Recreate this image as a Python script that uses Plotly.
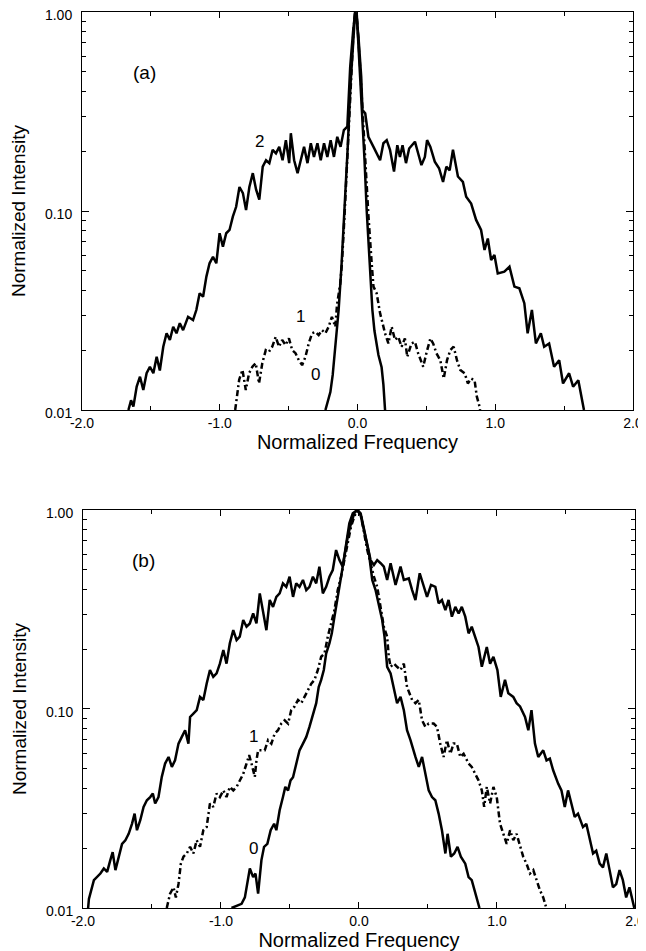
import numpy as np
import plotly.graph_objects as go

# ---------------- Panel (a) ----------------
a2_x = [-1.663, -1.644, -1.627, -1.603, -1.579, -1.555, -1.531, -1.507, -1.482, -1.458, -1.435, -1.410, -1.386, -1.362,
        -1.338, -1.314, -1.290, -1.266, -1.230, -1.194, -1.170, -1.146, -1.121, -1.097, -1.074, -1.049, -1.025, -1.001,
        -0.977, -0.953, -0.929, -0.905, -0.881, -0.857, -0.832, -0.809, -0.785, -0.760, -0.736, -0.713, -0.688, -0.664,
        -0.640, -0.616, -0.592, -0.568, -0.544, -0.520, -0.496, -0.484, -0.460, -0.435, -0.412, -0.388, -0.363, -0.339,
        -0.316, -0.291, -0.267, -0.243, -0.219, -0.195, -0.171, -0.147, -0.123, -0.099, -0.074, -0.053, -0.032, -0.017,
        -0.004, 0.007, 0.027, 0.036, 0.056, 0.067, 0.079, 0.116, 0.139, 0.164, 0.188, 0.212, 0.236, 0.265, 0.289, 0.308,
        0.327, 0.352, 0.375, 0.417, 0.440, 0.464, 0.489, 0.505, 0.529, 0.561, 0.592, 0.621, 0.645, 0.669, 0.693, 0.729,
        0.765, 0.789, 0.825, 0.861, 0.897, 0.922, 0.946, 0.970, 0.994, 1.018, 1.066, 1.103, 1.139, 1.175, 1.211, 1.235,
        1.266, 1.295, 1.331, 1.355, 1.391, 1.427, 1.464, 1.492, 1.536, 1.565, 1.603, 1.644]
a2_y = [0.0100, 0.0112, 0.0104, 0.0131, 0.0147, 0.0126, 0.0153, 0.0165, 0.0153, 0.0185, 0.0158, 0.0208, 0.0243, 0.0225,
        0.0262, 0.0243, 0.0273, 0.0252, 0.0294, 0.0283, 0.0318, 0.0386, 0.0371, 0.0468, 0.0546, 0.0589, 0.0546, 0.0773,
        0.0662, 0.0773, 0.0803, 0.0936, 0.105, 0.132, 0.123, 0.101, 0.132, 0.155, 0.128, 0.114, 0.167, 0.180,
        0.174, 0.203, 0.195, 0.210, 0.180, 0.227, 0.174, 0.246, 0.180, 0.155, 0.180, 0.210, 0.174, 0.219,
        0.187, 0.219, 0.180, 0.219, 0.187, 0.227, 0.187, 0.236, 0.210, 0.255, 0.265, 0.531, 0.800, 1.0,
        0.900, 0.751, 0.473, 0.322, 0.310, 0.276, 0.236, 0.210, 0.195, 0.180, 0.219, 0.227, 0.203, 0.158, 0.214, 0.187,
        0.214, 0.174, 0.206, 0.223, 0.195, 0.170, 0.187, 0.227, 0.210, 0.177, 0.164, 0.140, 0.167, 0.160, 0.203, 0.149,
        0.140, 0.118, 0.109, 0.0902, 0.0803, 0.0637, 0.0727, 0.0567, 0.0601, 0.0486, 0.0496, 0.0525, 0.0417, 0.0409, 0.0344, 0.0243,
        0.0318, 0.0216, 0.0243, 0.0208, 0.0216, 0.0165, 0.0178, 0.0136, 0.0153, 0.0131, 0.0141, 0.0100]

a1_x = [-0.888, -0.859, -0.835, -0.811, -0.787, -0.763, -0.739, -0.715, -0.691, -0.666, -0.643, -0.619, -0.594, -0.570,
        -0.547, -0.522, -0.498, -0.474, -0.450, -0.426, -0.402, -0.378, -0.354, -0.330, -0.305, -0.282, -0.258, -0.233,
        -0.209, -0.186, -0.161, -0.149, -0.125, -0.113, -0.094, -0.072, -0.051, -0.029, -0.017, -0.004, 0.018, 0.036,
        0.058, 0.079, 0.103, 0.116, 0.139, 0.164, 0.200, 0.224, 0.248, 0.272, 0.296, 0.320, 0.344, 0.361, 0.392, 0.417,
        0.440, 0.477, 0.500, 0.529, 0.549, 0.573, 0.601, 0.626, 0.650, 0.674, 0.698, 0.722, 0.746, 0.778, 0.801, 0.825,
        0.850, 0.866, 0.886, 0.890]
a1_y = [0.0100, 0.0142, 0.0159, 0.0126, 0.0153, 0.0165, 0.0172, 0.0136, 0.0172, 0.0200, 0.0196, 0.0208, 0.0233, 0.0208,
        0.0225, 0.0212, 0.0229, 0.0200, 0.0193, 0.0178, 0.0168, 0.0185, 0.0216, 0.0243, 0.0247, 0.0238, 0.0252, 0.0243,
        0.0262, 0.0294, 0.0262, 0.0337, 0.0433, 0.0546, 0.0955, 0.198, 0.415, 0.810, 1.0, 0.933, 0.542, 0.322,
        0.170, 0.0955, 0.0546, 0.0417, 0.0386, 0.0306, 0.0243, 0.0216, 0.0262, 0.0225, 0.0233, 0.0208, 0.0229, 0.0185, 0.0216, 0.0220,
        0.0193, 0.0165, 0.0193, 0.0229, 0.0216, 0.0193, 0.0178, 0.0144, 0.0178, 0.0200, 0.0208, 0.0178, 0.0159, 0.0153, 0.0136, 0.0144,
        0.0141, 0.0117, 0.0104, 0.0100]

a0_x = [-0.233, -0.197, -0.180, -0.161, -0.137, -0.116, -0.094, -0.072, -0.051, -0.032, -0.017, -0.005, 0.014, 0.031,
        0.051, 0.067, 0.079, 0.092, 0.108, 0.123, 0.152, 0.175, 0.188, 0.200]
a0_y = [0.0100, 0.0123, 0.0150, 0.0212, 0.0318, 0.0535, 0.100, 0.203, 0.430, 0.723, 1.0, 0.966, 0.574, 0.361,
        0.180, 0.100, 0.0715, 0.0435, 0.0318, 0.0250, 0.0189, 0.0164, 0.0134, 0.0100]

# ---------------- Panel (b) ----------------
b2_x = [-1.963, -1.957, -1.921, -1.898, -1.874, -1.849, -1.825, -1.802, -1.785, -1.765, -1.741, -1.717, -1.693, -1.669,
        -1.645, -1.626, -1.609, -1.585, -1.561, -1.537, -1.513, -1.494, -1.477, -1.453, -1.429, -1.405, -1.380, -1.356,
        -1.333, -1.308, -1.284, -1.260, -1.236, -1.224, -1.200, -1.176, -1.152, -1.128, -1.104, -1.080, -1.056, -1.032,
        -1.008, -0.983, -0.960, -0.936, -0.911, -0.887, -0.864, -0.839, -0.815, -0.791, -0.767, -0.743, -0.719, -0.695,
        -0.671, -0.647, -0.623, -0.599, -0.575, -0.551, -0.527, -0.503, -0.478, -0.455, -0.431, -0.406, -0.382, -0.359,
        -0.334, -0.310, -0.287, -0.262, -0.238, -0.214, -0.190, -0.166, -0.142, -0.118, -0.094, -0.070, -0.045, -0.012,
        0.012, 0.036, 0.060, 0.084, 0.108, 0.132, 0.157, 0.180, 0.204, 0.229, 0.265, 0.301, 0.325, 0.361, 0.385, 0.409,
        0.440, 0.469, 0.493, 0.522, 0.553, 0.577, 0.601, 0.626, 0.649, 0.673, 0.698, 0.722, 0.745, 0.770, 0.794, 0.817,
        0.842, 0.866, 0.890, 0.926, 0.950, 0.974, 1.003, 1.027, 1.058, 1.082, 1.118, 1.142, 1.167, 1.203, 1.227, 1.250,
        1.275, 1.299, 1.335, 1.359, 1.383, 1.407, 1.443, 1.467, 1.491, 1.515, 1.539, 1.563, 1.587, 1.623, 1.647, 1.672,
        1.696, 1.719, 1.744, 1.768, 1.792, 1.816, 1.840, 1.864, 1.888, 1.912, 1.936, 1.960, 1.979, 1.995]
b2_y = [0.0100, 0.0111, 0.0138, 0.0143, 0.0149, 0.0158, 0.0152, 0.0174, 0.0191, 0.0155, 0.0180, 0.0210, 0.0219, 0.0236,
        0.0265, 0.0298, 0.0246, 0.0276, 0.0322, 0.0348, 0.0361, 0.0376, 0.0335, 0.0361, 0.0456, 0.0532, 0.0574, 0.0512,
        0.0552, 0.0670, 0.0724, 0.0782, 0.0670, 0.0912, 0.0948, 0.0986, 0.115, 0.111, 0.134, 0.157, 0.145, 0.151,
        0.169, 0.198, 0.169, 0.214, 0.249, 0.222, 0.231, 0.280, 0.259, 0.269, 0.302, 0.269, 0.381, 0.302,
        0.249, 0.353, 0.326, 0.366, 0.381, 0.428, 0.411, 0.462, 0.366, 0.428, 0.411, 0.445, 0.396, 0.411,
        0.462, 0.428, 0.519, 0.381, 0.411, 0.462, 0.499, 0.629, 0.560, 0.519, 0.680, 0.857, 0.963, 1.0,
        0.963, 0.793, 0.680, 0.560, 0.529, 0.560, 0.540, 0.519, 0.445, 0.540, 0.420, 0.519, 0.445, 0.453, 0.396, 0.353,
        0.481, 0.411, 0.366, 0.420, 0.411, 0.340, 0.353, 0.314, 0.353, 0.291, 0.326, 0.302, 0.326, 0.291, 0.240, 0.259,
        0.231, 0.205, 0.163, 0.205, 0.169, 0.183, 0.157, 0.115, 0.140, 0.120, 0.115, 0.107, 0.103, 0.0912, 0.0782, 0.0986,
        0.0670, 0.0574, 0.0620, 0.0552, 0.0563, 0.0492, 0.0422, 0.0390, 0.0322, 0.0390, 0.0335, 0.0287, 0.0298, 0.0255, 0.0265, 0.0219,
        0.0188, 0.0194, 0.0167, 0.0160, 0.0188, 0.0155, 0.0127, 0.0132, 0.0155, 0.0138, 0.0113, 0.0127, 0.0111, 0.0100]

b1_x = [-1.393, -1.369, -1.344, -1.327, -1.308, -1.291, -1.272, -1.248, -1.224, -1.200, -1.176, -1.152, -1.128, -1.104,
        -1.080, -1.056, -1.032, -1.008, -0.983, -0.960, -0.936, -0.911, -0.887, -0.864, -0.839, -0.815, -0.796, -0.779,
        -0.755, -0.743, -0.731, -0.707, -0.683, -0.659, -0.635, -0.611, -0.587, -0.563, -0.539, -0.514, -0.491, -0.467,
        -0.442, -0.418, -0.395, -0.370, -0.346, -0.323, -0.298, -0.274, -0.250, -0.226, -0.202, -0.178, -0.154, -0.130,
        -0.106, -0.082, -0.058, -0.034, -0.014, 0.012, 0.036, 0.060, 0.084, 0.108, 0.132, 0.157, 0.180, 0.204, 0.216,
        0.229, 0.253, 0.276, 0.301, 0.325, 0.348, 0.385, 0.409, 0.433, 0.457, 0.481, 0.505, 0.541, 0.565, 0.589, 0.613,
        0.637, 0.662, 0.685, 0.709, 0.734, 0.758, 0.794, 0.817, 0.842, 0.866, 0.890, 0.907, 0.926, 0.950, 0.974, 0.998,
        1.022, 1.046, 1.070, 1.095, 1.118, 1.142, 1.167, 1.190, 1.214, 1.239, 1.263, 1.286, 1.311, 1.335, 1.354]
b1_y = [0.0100, 0.0118, 0.0127, 0.0113, 0.0132, 0.0167, 0.0181, 0.0188, 0.0203, 0.0188, 0.0219, 0.0203, 0.0246, 0.0255,
        0.0335, 0.0322, 0.0376, 0.0361, 0.0390, 0.0361, 0.0406, 0.0390, 0.0406, 0.0438, 0.0472, 0.0532, 0.0586, 0.0532,
        0.0456, 0.0552, 0.0620, 0.0620, 0.0620, 0.0697, 0.0670, 0.0753, 0.0782, 0.0845, 0.0877, 0.0845, 0.0986, 0.103,
        0.111, 0.107, 0.115, 0.124, 0.134, 0.140, 0.157, 0.183, 0.190, 0.231, 0.269, 0.314, 0.396, 0.462,
        0.560, 0.680, 0.824, 0.925, 1.0, 0.950, 0.763, 0.629, 0.540, 0.462, 0.411, 0.314, 0.259, 0.231, 0.183,
        0.163, 0.169, 0.163, 0.157, 0.169, 0.129, 0.111, 0.107, 0.111, 0.0877, 0.0813, 0.0845, 0.0845, 0.0813, 0.0670, 0.0574,
        0.0697, 0.0596, 0.0670, 0.0670, 0.0574, 0.0596, 0.0532, 0.0512, 0.0472, 0.0438, 0.0390, 0.0322, 0.0406, 0.0335, 0.0406, 0.0361,
        0.0265, 0.0236, 0.0210, 0.0246, 0.0219, 0.0236, 0.0203, 0.0181, 0.0167, 0.0149, 0.0155, 0.0138, 0.0123, 0.0113, 0.0102]

b0_x = [-0.924, -0.851, -0.827, -0.803, -0.791, -0.767, -0.750, -0.731, -0.707, -0.688, -0.664, -0.640, -0.615, -0.599,
        -0.575, -0.551, -0.534, -0.514, -0.496, -0.478, -0.455, -0.431, -0.406, -0.382, -0.359, -0.334, -0.310, -0.292,
        -0.274, -0.255, -0.238, -0.214, -0.197, -0.178, -0.154, -0.130, -0.106, -0.082, -0.058, -0.034, -0.012, 0.012,
        0.036, 0.072, 0.084, 0.096, 0.120, 0.144, 0.168, 0.185, 0.204, 0.229, 0.253, 0.276, 0.301, 0.325, 0.348, 0.373,
        0.409, 0.433, 0.457, 0.481, 0.505, 0.529, 0.553, 0.577, 0.601, 0.626, 0.642, 0.666, 0.690, 0.714, 0.738, 0.770,
        0.794, 0.817, 0.842, 0.866, 0.873]
b0_y = [0.0100, 0.0105, 0.0113, 0.0138, 0.0158, 0.0143, 0.0149, 0.0118, 0.0174, 0.0203, 0.0210, 0.0246, 0.0265, 0.0246,
        0.0310, 0.0361, 0.0406, 0.0390, 0.0438, 0.0454, 0.0532, 0.0620, 0.0670, 0.0724, 0.0813, 0.0948, 0.107, 0.129,
        0.140, 0.157, 0.190, 0.214, 0.240, 0.291, 0.366, 0.462, 0.605, 0.734, 0.857, 0.963, 1.0, 0.940,
        0.793, 0.605, 0.519, 0.445, 0.396, 0.326, 0.280, 0.231, 0.163, 0.151, 0.124, 0.107, 0.115, 0.0986, 0.0782, 0.0697,
        0.0574, 0.0512, 0.0574, 0.0474, 0.0390, 0.0361, 0.0348, 0.0298, 0.0246, 0.0188, 0.0236, 0.0181, 0.0188, 0.0203, 0.0181, 0.0167,
        0.0143, 0.0138, 0.0118, 0.0103, 0.0100]

# ---------------- ticks / labels ----------------
x_tick_vals = [-2, -1, 0, 1, 2]
x_tick_text = ["-2.0", "-1.0", "0.0", "1.0", "2.0"]
x_minor_vals = [-1.5, -0.5, 0.5, 1.5]
y_tick_vals = [0.01, 0.1, 1.0]
y_tick_text = ["0.01", "0.10", "1.00"]
y_minor_vals = [0.02, 0.03, 0.04, 0.05, 0.06, 0.07, 0.08, 0.09, 0.2, 0.3, 0.4, 0.5, 0.6, 0.7, 0.8, 0.9]

x_title = "Normalized Frequency"
y_title = "Normalized Intensity"
panel_labels = ["(a)", "(b)"]
curve_labels = ["2", "1", "0"]

for nm, xs, ys in [("a2", a2_x, a2_y), ("a1", a1_x, a1_y), ("a0", a0_x, a0_y),
                   ("b2", b2_x, b2_y), ("b1", b1_x, b1_y), ("b0", b0_x, b0_y)]:
    if len(xs) != len(ys):
        raise ValueError(f"{nm}: {len(xs)} x vs {len(ys)} y")

FONT = "Liberation Sans, Arial, Helvetica, sans-serif"
DASHDOT = "6px,3px,2px,3px"

fig = go.Figure()


def add(xs, ys, xa, ya, dash):
    fig.add_trace(go.Scatter(x=xs, y=ys, xaxis=xa, yaxis=ya, mode="lines",
                             line=dict(color="black", width=2.5, dash=dash),
                             showlegend=False, hoverinfo="skip"))


add(a2_x, a2_y, "x", "y", "solid")
add(a1_x, a1_y, "x", "y", DASHDOT)
add(a0_x, a0_y, "x", "y", "solid")
add(b2_x, b2_y, "x2", "y2", "solid")
add(b1_x, b1_y, "x2", "y2", DASHDOT)
add(b0_x, b0_y, "x2", "y2", "solid")


def xaxis(domain, anchor):
    return dict(domain=domain, anchor=anchor, range=[-2, 2], tickmode="array",
                tickvals=x_tick_vals, ticktext=x_tick_text, ticks="inside", ticklen=6,
                tickwidth=1, tickcolor="black", showline=True, linecolor="black", linewidth=1,
                mirror="allticks", showgrid=False, zeroline=False, ticklabeloverflow="allow",
                tickfont=dict(size=14, color="black", family=FONT),
                minor=dict(tickvals=x_minor_vals, ticks="inside", ticklen=4, tickcolor="black",
                           tickwidth=1, showgrid=False),
                title=dict(text=x_title, font=dict(size=20, color="black", family=FONT), standoff=0),
                automargin=False)


def yaxis(domain, anchor):
    return dict(domain=domain, anchor=anchor, type="log", range=[-2, 0], tickmode="array",
                tickvals=y_tick_vals, ticktext=y_tick_text, ticks="inside", ticklen=7,
                tickwidth=1, tickcolor="black", showline=True, linecolor="black", linewidth=1,
                mirror="allticks", showgrid=False, zeroline=False, ticklabelstandoff=6,
                ticklabelshift=3, ticklabeloverflow="allow",
                tickfont=dict(size=14, color="black", family=FONT),
                minor=dict(tickvals=y_minor_vals, ticks="inside", ticklen=4, tickcolor="black",
                           tickwidth=1, showgrid=False),
                title=dict(text=y_title, font=dict(size=19, color="black", family=FONT), standoff=14),
                automargin=False)


ann = []
for txt, xv, yv, xr, yr in [
    (panel_labels[0], -1.545, 0.499, "x", "y"),
    (panel_labels[1], -1.558, 0.56, "x2", "y2"),
    (curve_labels[0], -0.713, 0.223, "x", "y"),
    (curve_labels[1], -0.412, 0.0294, "x", "y"),
    (curve_labels[2], -0.303, 0.0150, "x", "y"),
    (curve_labels[1], -0.767, 0.0724, "x2", "y2"),
    (curve_labels[2], -0.763, 0.0199, "x2", "y2"),
]:
    size = 19 if txt.startswith("(") else 17
    ann.append(dict(text=txt, x=xv, y=float(np.log10(yv)), xref=xr, yref=yr, showarrow=False,
                    font=dict(size=size, color="black", family=FONT), xanchor="center", yanchor="middle"))

# The page body adds an 8px margin, so the figure is 8px smaller and positions are offset by -8.
fig.update_layout(
    width=638, height=943,
    margin=dict(l=74, r=11, t=4, b=43, autoexpand=False),
    paper_bgcolor="white", plot_bgcolor="white",
    font=dict(family=FONT, color="black"),
    xaxis=xaxis([0.0, 0.9964], "y"),
    yaxis=yaxis([0.5558, 1.0], "x"),
    xaxis2=xaxis([0.0018, 1.0], "y2"),
    yaxis2=yaxis([0.0, 0.4442], "x2"),
    annotations=ann,
    showlegend=False,
)

fig.write_html("out.html")
